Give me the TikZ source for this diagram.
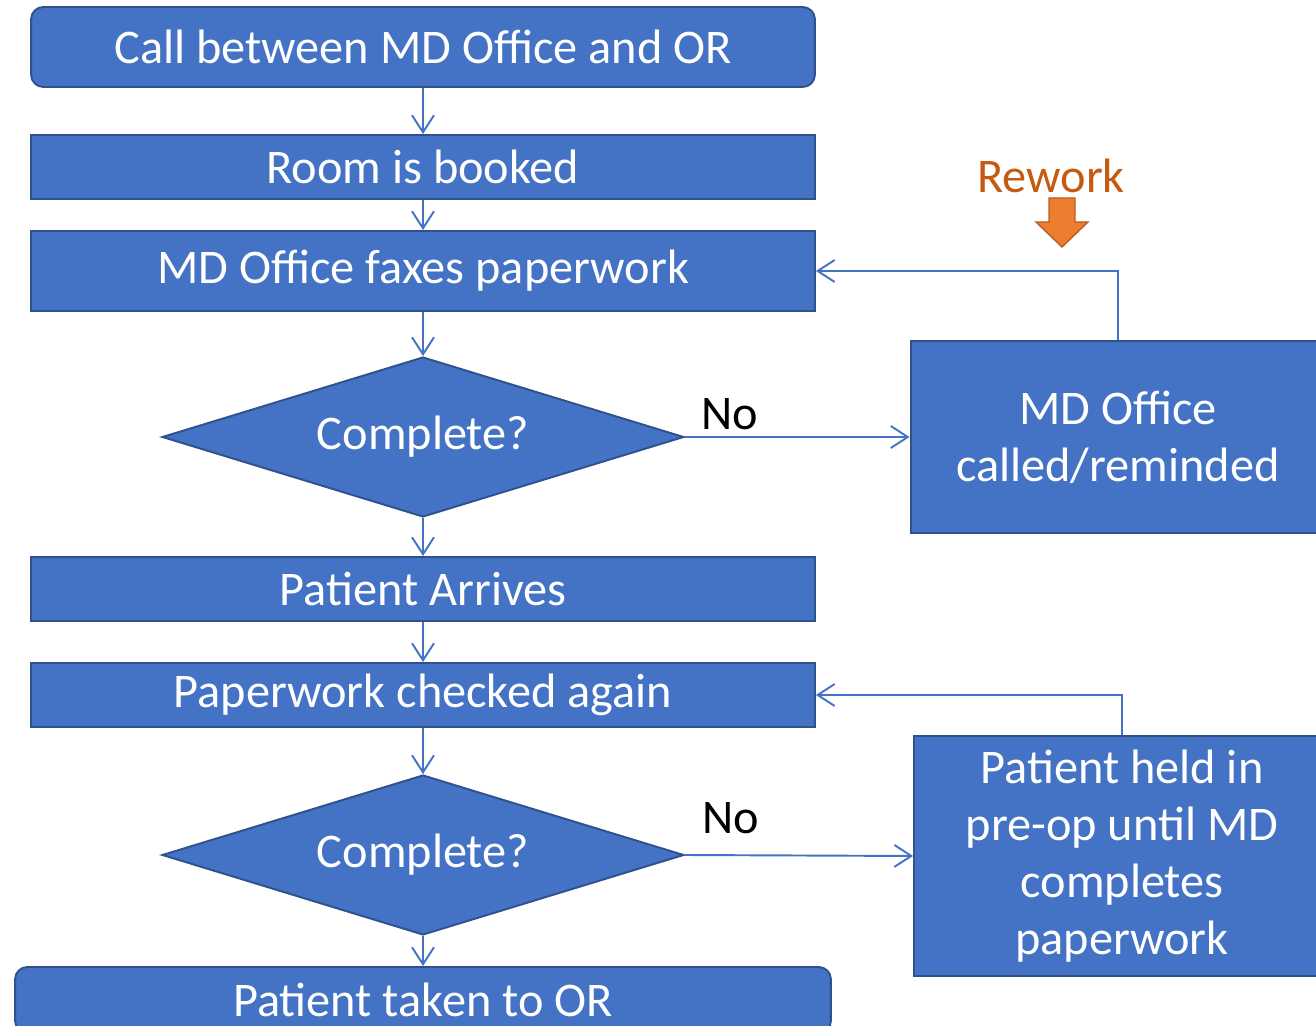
\documentclass[tikz,border=0pt]{standalone}
\usepackage{fontspec}
\setmainfont{Carlito}
\usetikzlibrary{positioning,shapes.geometric,arrows.meta}
\definecolor{boxblue}{HTML}{4472C4}
\definecolor{boxedge}{HTML}{2F528F}
\definecolor{reworktext}{HTML}{C55A11}
\definecolor{reworkfill}{HTML}{ED7D31}
\definecolor{reworkedge}{HTML}{B85F22}

\begin{document}
\begin{tikzpicture}[x=0.02cm, y=-0.02cm, >={Straight Barb[length=3.4mm,width=4.4mm]},
  every node/.style={font=\fontsize{27.5}{32.5}\selectfont},
  stepbox/.style={draw=boxedge, fill=boxblue, text=white, line width=1.1pt, minimum width=15.68cm, minimum height=1.28cm, inner sep=0pt},
  endbox/.style={stepbox, rounded corners=7pt},
  sidebox/.style={stepbox, align=center, minimum width=8.3cm},
  decision/.style={diamond, aspect=3.26, draw=boxedge, fill=boxblue, text=white, line width=1.1pt, minimum width=10.44cm, minimum height=3.2cm, inner sep=0pt},
  flow/.style={->, draw=boxblue, line width=1.1pt}]
\useasboundingbox (0,0) rectangle (1316,1026);
\clip (0,0) rectangle (1316,1026);

\node (call) [endbox, minimum height=1.6cm] at (423,47) {Call between MD Office and OR};
\node (booked) [stepbox] at (423,167) {Room is booked};
\node (faxes) [stepbox, minimum height=1.6cm] at (423,271) {MD Office faxes paperwork};
\node (check1) [decision] at (423,437) {Complete?};
\node (arrives) [stepbox] at (423,589) {Patient Arrives};
\node (checked) [stepbox] at (423,695) {Paperwork checked again};
\node (check2) [decision] at (423,855) {Complete?};
\node (toor) [endbox, minimum width=16.32cm, minimum height=1.32cm] at (423,1000) {Patient taken to OR};

\node (remind) [sidebox, minimum height=3.84cm] at (1118,437) {MD Office\\called/reminded};
\node (held) [sidebox, minimum width=8.32cm, minimum height=4.8cm] at (1122,856) {Patient held in\\pre-op until MD\\completes\\paperwork};

\node (rework) [text=reworktext] at (1051,176) {Rework};
\draw[fill=reworkfill, draw=reworkedge, line width=0.8pt, line join=miter]
  (1049,198) -- (1075,198) -- (1075,222) -- (1088,222) -- (1062,247) -- (1036,222) -- (1049,222) -- cycle;

\draw[flow] (call) -- (booked);
\draw[flow] (booked) -- (faxes);
\draw[flow] (faxes) -- (check1);
\draw[flow] (check1) -- (arrives);
\draw[flow] (arrives) -- (checked);
\draw[flow] (checked) -- (check2);
\draw[flow] (check2) -- (toor);
\draw[flow] (check1.east) -- node[pos=0.2, above, inner sep=3.7pt] {No} (remind.west);
\draw[flow] (check2.east) -- node[pos=0.2, above, inner sep=11.5pt] {No} (held.west);
\draw[flow] (remind.north) |- (faxes.east);
\draw[flow] (held.north) |- (checked.east);
\end{tikzpicture}
\end{document}
